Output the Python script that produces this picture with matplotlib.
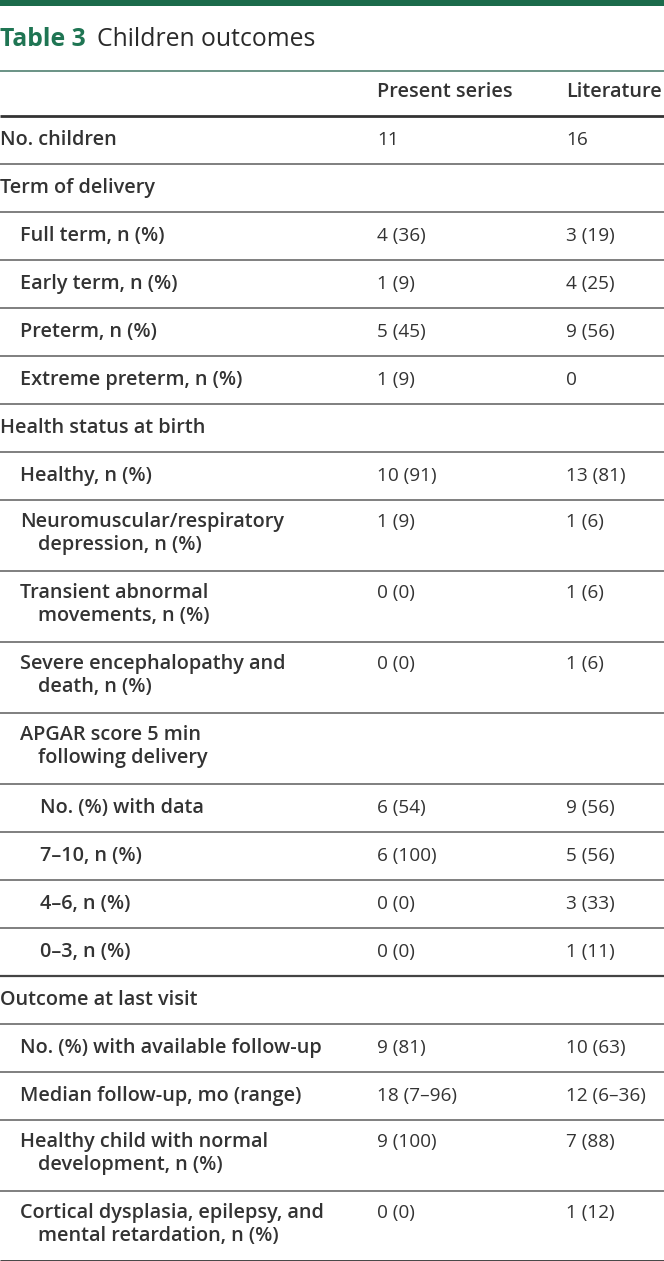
import matplotlib
matplotlib.use("Agg")
import matplotlib.pyplot as plt

plt.rcParams['font.family'] = ['Open Sans', 'DejaVu Sans']

TITLE_NUM = "Table 3"
TITLE_TEXT = "Children outcomes"
COL_HEADERS = ["Present series", "Literature"]

# label lines, indent level
row_labels = [
    ["No. children"],
    ["Term of delivery"],
    ["Full term, n (%)"],
    ["Early term, n (%)"],
    ["Preterm, n (%)"],
    ["Extreme preterm, n (%)"],
    ["Health status at birth"],
    ["Healthy, n (%)"],
    ["Neuromuscular/respiratory", "depression, n (%)"],
    ["Transient abnormal", "movements, n (%)"],
    ["Severe encephalopathy and", "death, n (%)"],
    ["APGAR score 5 min", "following delivery"],
    ["No. (%) with data"],
    ["7\u201310, n (%)"],
    ["4\u20136, n (%)"],
    ["0\u20133, n (%)"],
    ["Outcome at last visit"],
    ["No. (%) with available follow-up"],
    ["Median follow-up, mo (range)"],
    ["Healthy child with normal", "development, n (%)"],
    ["Cortical dysplasia, epilepsy, and", "mental retardation, n (%)"],
]
row_levels = [0, 0, 1, 1, 1, 1, 0, 1, 1, 1, 1, 1, 2, 2, 2, 2, 0, 1, 1, 1, 1]
present = ["11", "", "4 (36)", "1 (9)", "5 (45)", "1 (9)", "", "10 (91)",
           "1 (9)", "0 (0)", "0 (0)", "", "6 (54)", "6 (100)", "0 (0)", "0 (0)",
           "", "9 (81)", "18 (7\u201396)", "9 (100)", "0 (0)"]
literature = ["16", "", "3 (19)", "4 (25)", "9 (56)", "0", "", "13 (81)",
              "1 (6)", "1 (6)", "1 (6)", "", "9 (56)", "5 (56)", "3 (33)", "1 (11)",
              "", "10 (63)", "12 (6\u201336)", "7 (88)", "1 (12)"]
# rows after which a heavier rule is drawn
heavy_after = [15]

W, H = 664, 1261
GREEN = "#1b6b4b"
TXT = "#333333"
RULE = "#6a6a6a"
FS_LAB = 14.3
FS_VAL = 13.7

fig = plt.figure(figsize=(W / 100, H / 100), dpi=100)
ax = fig.add_axes([0, 0, 1, 1])
ax.set_xlim(0, W)
ax.set_ylim(H, 0)
ax.axis("off")

# top bar
ax.axhspan(0, 6, color=GREEN, lw=0)

# title
t = ax.text(0, 39, TITLE_NUM, fontsize=17.8, fontweight="bold", color="#1f7553",
            va="center", ha="left")
fig.canvas.draw()
bb = t.get_window_extent().transformed(ax.transData.inverted())
ax.text(bb.x1 + 11, 39, TITLE_TEXT, fontsize=17.8, color="#2a2a2a",
        va="center", ha="left")

ax.hlines(71, 0, W, color="#5e8a7c", lw=1.3)

col_x = [377, 566]
for x, h in zip(col_x, COL_HEADERS):
    ax.text(x, 92, h, fontsize=FS_LAB, fontweight="semibold", color=TXT,
            va="center", ha="left")
ax.hlines(116, 0, W, color="#333333", lw=2)

SINGLE, DOUBLE, LINE_GAP = 48, 71, 23
indent = [0, 20, 40]
y = 116
for i, lines in enumerate(row_labels):
    h = SINGLE if len(lines) == 1 else DOUBLE
    ty = y + (24 if len(lines) == 1 else 22)
    x0 = indent[row_levels[i]]
    for k, ln in enumerate(lines):
        ax.text(x0 + (18 if k else 0), ty + k * LINE_GAP, ln, fontsize=FS_LAB,
                fontweight="semibold", color=TXT, va="center", ha="left")
    for x, v in zip(col_x, [present[i], literature[i]]):
        if v:
            ax.text(x, ty, v, fontsize=FS_VAL, color=TXT, va="center", ha="left")
    y += h
    last = i == len(row_labels) - 1
    if last:
        ax.hlines(y - 1, 0, W, color="#333333", lw=2)
    elif i in heavy_after:
        ax.hlines(y, 0, W, color="#444444", lw=1.6)
    else:
        ax.hlines(y, 0, W, color=RULE, lw=1.2)

fig.savefig("out.png", dpi=100)
